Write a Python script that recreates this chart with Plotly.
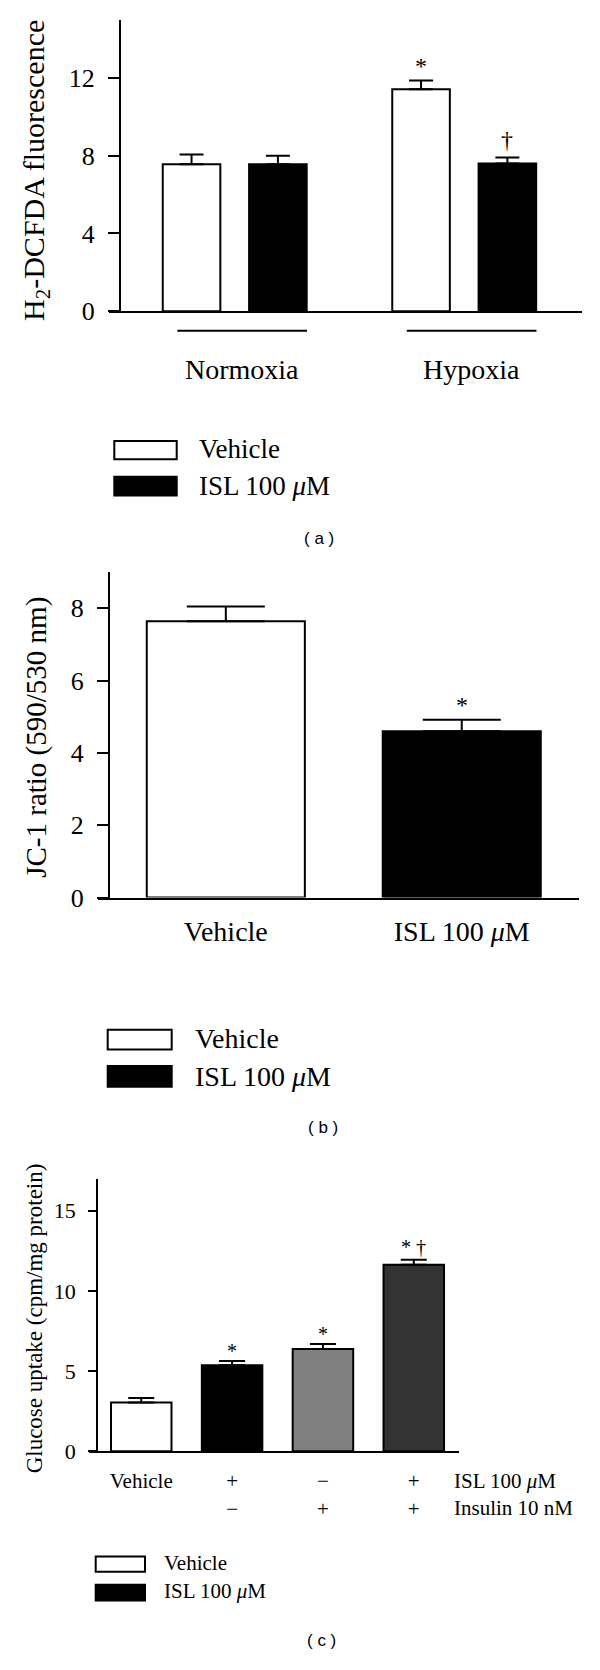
import plotly.graph_objects as go

# ---------------- data ----------------
# Panel (a)
a_groups = ["Normoxia", "Hypoxia"]
a_vehicle = [7.57, 11.43]
a_vehicle_err = [0.49, 0.44]
a_isl = [7.57, 7.60]
a_isl_err = [0.43, 0.31]
a_marks_vehicle = ["", "*"]
a_marks_isl = ["", "†"]
a_yticks = [0, 4, 8, 12]

# Panel (b)
b_groups = ["Vehicle", "ISL 100 <i>μ</i>M"]
b_values = [7.64, 4.60]
b_err = [0.41, 0.32]
b_marks = ["", "*"]
b_colors = ["white", "black"]
b_yticks = [0, 2, 4, 6, 8]

# Panel (c)
c_isl = ["Vehicle", "+", "−", "+"]
c_insulin = ["", "−", "+", "+"]
c_values = [3.04, 5.36, 6.37, 11.63]
c_err = [0.27, 0.27, 0.31, 0.31]
c_marks = ["", "*", "*", "* †"]
c_colors = ["white", "black", "#808080", "#333333"]
c_yticks = [0, 5, 10, 15]
c_row_labels = ["ISL 100 <i>μ</i>M", "Insulin 10 nM"]

legend_labels = ["Vehicle", "ISL 100 <i>μ</i>M"]
legend_colors = ["white", "black"]
captions = ["( a )", "( b )", "( c )"]
y_titles = ["H<sub>2</sub>-DCFDA fluorescence", "JC-1 ratio (590/530 nm)",
            "Glucose uptake (cpm/mg protein)"]

# ---------------- layout helpers ----------------
W, H = 600, 1670
SERIF = "Liberation Serif"
SANS = "Liberation Sans"


def px(x):
    return x / W


def py(y):
    return 1 - y / H


fig = go.Figure()

# ---------------- panel (a) ----------------
aw = 0.251          # bar width (category units)
a_off = [-0.3135, 0.0627]
a_specs = [(a_vehicle, a_vehicle_err, "white", a_marks_vehicle),
           (a_isl, a_isl_err, "black", a_marks_isl)]
for (vals, errs, col, marks), off in zip(a_specs, a_off):
    fig.add_trace(go.Bar(
        x=a_groups, y=vals, width=aw, offset=off,
        marker=dict(color=col, line=dict(color="black", width=2)),
        error_y=dict(type="data", array=errs, arrayminus=[0] * len(errs),
                     symmetric=False, color="black", thickness=2, width=12),
        xaxis="x", yaxis="y", showlegend=False, hoverinfo="skip"))
    for i, m in enumerate(marks):
        if m:
            fig.add_annotation(x=i + off + aw / 2, y=vals[i] + errs[i],
                               xref="x", yref="y", text=m, showarrow=False,
                               yanchor="bottom", yshift=0 if m == "*" else 3,
                               font=dict(family=SERIF, size=24, color="black"))

# group underlines
for i in range(len(a_groups)):
    fig.add_shape(type="line", xref="x", yref="paper",
                  x0=i - 0.25, x1=i + 0.315, y0=py(333.8), y1=py(333.8),
                  line=dict(color="black", width=2))

# ---------------- panel (b) ----------------
bw = 0.67
fig.add_trace(go.Bar(
    x=b_groups, y=b_values, width=bw, offset=-bw / 2,
    marker=dict(color=b_colors, line=dict(color="black", width=2)),
    error_y=dict(type="data", array=b_err, arrayminus=[0] * len(b_err),
                 symmetric=False, color="black", thickness=2, width=39),
    xaxis="x2", yaxis="y2", showlegend=False, hoverinfo="skip"))
for i, m in enumerate(b_marks):
    if m:
        fig.add_annotation(x=i, y=b_values[i] + b_err[i], xref="x2", yref="y2",
                           text=m, showarrow=False, yanchor="bottom",
                           font=dict(family=SERIF, size=24, color="black"))

# ---------------- panel (c) ----------------
cw = 0.666
c_cats = [f"{a}<br>{b}" if b else a for a, b in zip(c_isl, c_insulin)]
fig.add_trace(go.Bar(
    x=c_cats, y=c_values, width=cw, offset=-cw / 2,
    marker=dict(color=c_colors, line=dict(color="black", width=2)),
    error_y=dict(type="data", array=c_err, arrayminus=[0] * len(c_err),
                 symmetric=False, color="black", thickness=2, width=13),
    xaxis="x3", yaxis="y3", showlegend=False, hoverinfo="skip"))
for i, m in enumerate(c_marks):
    if m:
        fig.add_annotation(x=i, y=c_values[i] + c_err[i], xref="x3", yref="y3",
                           text=m, showarrow=False, yanchor="bottom",
                           yshift=-3 if m == "*" else 0,
                           font=dict(family=SERIF, size=20, color="black"))

fig.add_annotation(x=px(451.7), y=py(1480), xref="paper", yref="paper",
                   xanchor="left", yanchor="top", align="left",
                   text="<br>".join(c_row_labels), showarrow=False,
                   font=dict(family=SERIF, size=21, color="black"))

# ---------------- axes ----------------
axis_common = dict(showline=True, linecolor="black", linewidth=2,
                   showgrid=False, zeroline=False, fixedrange=True)

fig.update_layout(
    xaxis=dict(domain=[px(109), px(582)], anchor="y", type="category",
               range=[-0.5477, 1.5133], ticks="", ticklabelstandoff=32,
               ticklabelshift=7,
               tickfont=dict(family=SERIF, size=28, color="black"), **axis_common),
    yaxis=dict(domain=[py(314), py(20)], anchor="free", position=px(120),
               range=[0, 15], tickvals=a_yticks, ticks="outside", ticklen=11,
               tickwidth=2, tickcolor="black", ticklabelstandoff=8,
               tickfont=dict(family=SERIF, size=26, color="black"), **axis_common),
    xaxis2=dict(domain=[px(97.7), px(579)], anchor="y2", type="category",
                range=[-0.543, 1.497], ticks="", ticklabelstandoff=8,
                tickfont=dict(family=SERIF, size=28, color="black"), **axis_common),
    yaxis2=dict(domain=[py(905.7), py(577.3)], anchor="free", position=px(109),
                range=[0, 9], tickvals=b_yticks, ticks="outside", ticklen=11,
                tickwidth=2, tickcolor="black", ticklabelstandoff=8,
                tickfont=dict(family=SERIF, size=26, color="black"), **axis_common),
    xaxis3=dict(domain=[px(89), px(459.3)], anchor="y3", type="category",
                range=[-0.575, 3.501], ticks="", ticklabelstandoff=10,
                tickfont=dict(family=SERIF, size=21, color="black"), **axis_common),
    yaxis3=dict(domain=[py(1464.3), py(1189.3)], anchor="free", position=px(96.7),
                range=[0, 17], tickvals=c_yticks, ticks="outside", ticklen=7.5,
                tickwidth=2, tickcolor="black", ticklabelstandoff=8,
                tickfont=dict(family=SERIF, size=22, color="black"), **axis_common),
)

# y titles
title_pos = [(36.5, 172, 30), (36.5, 744, 29), (34.3, 1330, 23)]
for t, (x, y, s) in zip(y_titles, title_pos):
    fig.add_annotation(x=px(x), y=py(y), xref="paper", yref="paper",
                       text=t, textangle=-90, showarrow=False,
                       xanchor="center", yanchor="middle",
                       font=dict(family=SERIF, size=s, color="black"))

# ---------------- legends (drawn boxes + text) ----------------
legend_geo = [
    # box x0, x1, [(y0, y1) per entry], text x, [text y], font size
    (114.3, 176.7, [(445, 463.3), (481, 500)], 196.7, [453, 490], 27),
    (107.7, 171.7, [(1039, 1059), (1075.7, 1096.7)], 193.3, [1048, 1086], 28),
    (95.7, 145.0, [(1570.7, 1586), (1599, 1615)], 161.7, [1577, 1605], 21),
]
for bx0, bx1, boxes, tx, tys, fs in legend_geo:
    for (y0, y1), ty, lab, col in zip(boxes, tys, legend_labels, legend_colors):
        fig.add_shape(type="rect", xref="paper", yref="paper",
                      x0=px(bx0), x1=px(bx1), y0=py(y1), y1=py(y0),
                      fillcolor=col, line=dict(color="black", width=2))
        fig.add_annotation(x=px(tx), y=py(ty), xref="paper", yref="paper",
                           xanchor="left", yanchor="middle", text=lab,
                           showarrow=False,
                           font=dict(family=SERIF, size=fs, color="black"))

# captions
for cap, (cx, cy) in zip(captions, [(319, 543), (323, 1138), (321.7, 1655)]):
    fig.add_annotation(x=px(cx), y=py(cy), xref="paper", yref="paper",
                       text=cap, showarrow=False, xanchor="center",
                       yanchor="middle",
                       font=dict(family=SANS, size=17, color="black"))

fig.update_layout(
    width=W, height=H, margin=dict(l=0, r=0, t=0, b=0),
    paper_bgcolor="white", plot_bgcolor="white", barmode="group",
    showlegend=False,
)

fig.write_html("out.html", config={"displayModeBar": False},
               post_script="document.body.style.margin='0';"
                           "document.body.style.padding='0';")
